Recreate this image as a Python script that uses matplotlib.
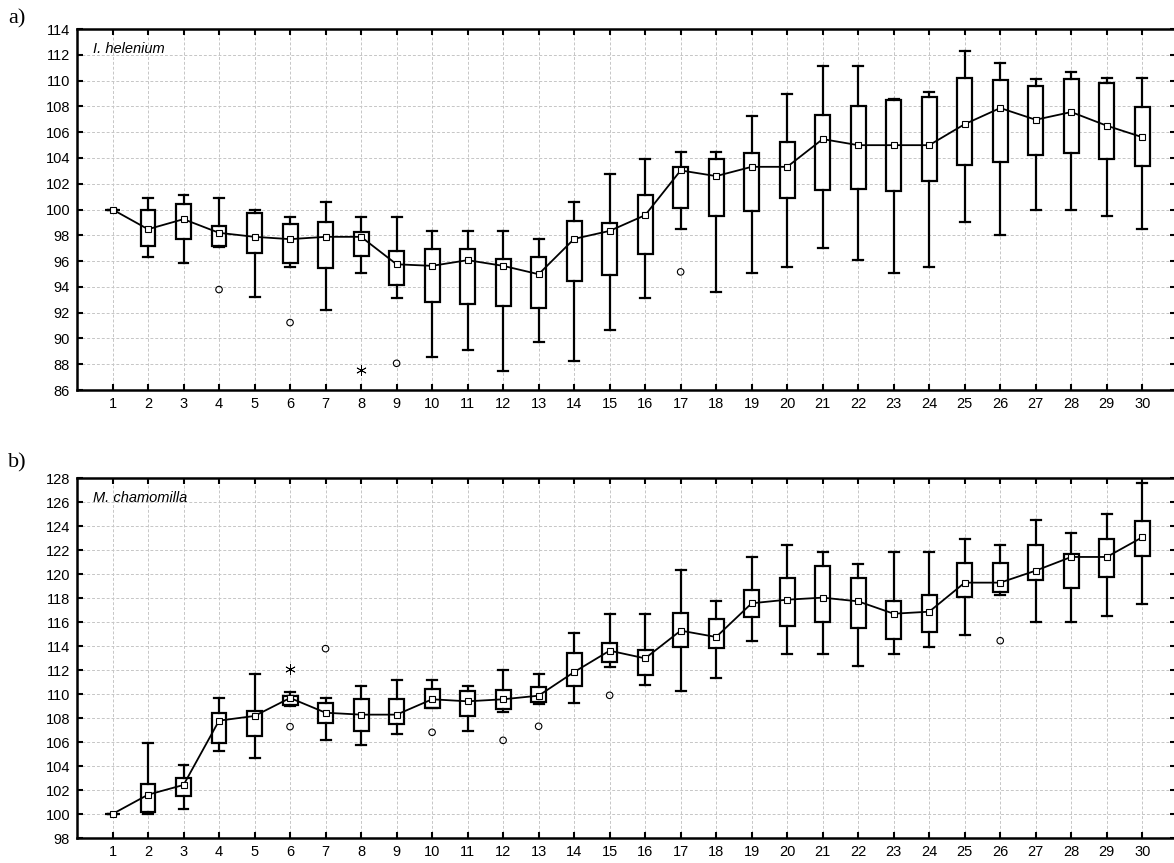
import numpy as np
import matplotlib
matplotlib.use("Agg")
from matplotlib import pyplot as plt

days = list(range(1, 31))

# a) I. helenium
mean_a = [100, 98.47, 99.25, 98.19, 97.88, 97.7, 97.88, 97.88, 95.75, 95.63,
          96.07, 95.63, 94.98, 97.72, 98.34, 99.56, 103.03, 102.59, 103.31, 103.31,
          105.46, 104.99, 104.99, 104.99, 106.62, 107.87, 106.96, 107.56, 106.5, 105.61]
q3_a = [100, 100.0, 100.46, 98.7, 99.71, 98.89, 99.04, 98.24, 96.79, 96.97,
        96.92, 96.17, 96.3, 99.14, 98.94, 101.14, 103.31, 103.93, 104.4, 105.23,
        107.35, 108.0, 108.49, 108.75, 110.2, 110.07, 109.55, 110.14, 109.78, 107.92]
q1_a = [100, 97.15, 97.75, 97.15, 96.66, 95.83, 95.44, 96.4, 94.15, 92.8,
        92.67, 92.52, 92.39, 94.49, 94.93, 96.58, 100.13, 99.46, 99.9, 100.93,
        101.55, 101.6, 101.42, 102.2, 103.49, 103.7, 104.19, 104.37, 103.88, 103.39]
hi_a = [100, 100.93, 101.09, 100.9, 100.0, 99.43, 100.57, 99.43, 99.45, 98.34,
        98.34, 98.34, 97.75, 100.57, 102.79, 103.88, 104.48, 104.48, 107.27, 108.93,
        111.15, 111.15, 108.56, 109.08, 112.27, 111.36, 110.1, 110.64, 110.22, 110.22]
lo_a = [100, 96.35, 95.83, 97.1, 93.24, 95.57, 92.18, 95.11, 93.17, 88.53,
        89.08, 87.5, 89.7, 88.25, 90.68, 93.14, 98.45, 93.63, 95.11, 95.57,
        97.05, 96.07, 95.11, 95.57, 99.04, 98.03, 100.0, 100.0, 99.51, 98.52]
out_x_a = [4, 6, 9, 17]
out_y_a = [93.79, 91.23, 88.07, 95.16]
ext_x_a = [8]
ext_y_a = [87.55]

# b) M. chamomilla
mean_b = [100, 101.61, 102.42, 107.78, 108.17, 109.67, 108.44, 108.28, 108.28, 109.56,
          109.39, 109.56, 109.86, 111.83, 113.61, 112.97, 115.28, 114.75, 117.56, 117.86,
          118.03, 117.72, 116.69, 116.86, 119.28, 119.28, 120.28, 121.42, 121.42, 123.06]
q3_b = [100, 102.53, 103.0, 108.42, 108.61, 109.86, 109.22, 109.61, 109.61, 110.42,
        110.25, 110.36, 110.56, 113.44, 114.28, 113.67, 116.75, 116.25, 118.69, 119.69,
        120.67, 119.67, 117.75, 118.28, 120.94, 120.94, 122.44, 121.64, 122.94, 124.42]
q1_b = [100, 100.19, 101.5, 105.89, 106.53, 109.06, 107.61, 106.94, 107.5, 108.86,
        108.14, 108.78, 109.33, 110.64, 112.64, 111.61, 113.89, 113.81, 116.39, 115.69,
        116.0, 115.47, 114.61, 115.14, 118.06, 118.5, 119.53, 118.81, 119.72, 121.53]
hi_b = [100, 105.89, 104.11, 109.67, 111.67, 110.14, 109.67, 110.67, 111.17, 111.17,
        110.67, 112.03, 111.64, 115.11, 116.67, 116.67, 120.31, 117.72, 121.39, 122.39,
        121.86, 120.81, 121.86, 121.86, 122.92, 122.39, 124.47, 123.42, 124.97, 127.61]
lo_b = [100, 100.0, 100.44, 105.22, 104.64, 109.0, 106.14, 105.72, 106.67, 108.8,
        106.89, 108.5, 109.14, 109.25, 112.28, 110.78, 110.28, 111.33, 114.42, 113.36,
        113.36, 112.33, 113.36, 113.89, 114.92, 118.28, 115.97, 115.97, 116.5, 117.53]
out_x_b = [6, 7, 10, 12, 13, 15, 26]
out_y_b = [107.28, 113.78, 106.81, 106.14, 107.31, 109.89, 114.44]
ext_x_b = [6]
ext_y_b = [112.08]


def plot_panel(ax, mean, q1, q3, lo, hi, out_x, out_y, ext_x, ext_y, ylim, name):
    stats = []
    for m, a, b, l, h in zip(mean, q1, q3, lo, hi):
        stats.append({'med': m, 'q1': a, 'q3': b, 'whislo': l, 'whishi': h, 'fliers': []})

    ax.bxp(stats, positions=days, widths=0.42, patch_artist=True, showfliers=False,
           boxprops=dict(facecolor='white', edgecolor='black', linewidth=1.6),
           whiskerprops=dict(color='black', linewidth=1.6),
           capprops=dict(color='black', linewidth=1.6),
           medianprops=dict(linewidth=0), capwidths=0.28, zorder=2)

    ax.plot(days, mean, color='black', linewidth=1.3, marker='s', markersize=5,
            markerfacecolor='white', markeredgecolor='black', markeredgewidth=0.8, zorder=4)
    ax.scatter(out_x, out_y, s=22, marker='o', facecolors='none', edgecolors='black',
               linewidths=0.8, zorder=4)
    ax.scatter(ext_x, ext_y, s=50, marker=(6, 2, 0), color='black', linewidths=0.6, zorder=4)

    ax.set_xlim(0, 30.95)
    ax.set_ylim(*ylim)
    ax.set_xticks(days)
    ax.set_xticklabels([str(d) for d in days])
    ax.set_yticks(np.arange(ylim[0], ylim[1] + 1, 2))
    ax.grid(True, color='#c6c6c6', linestyle=(0, (3, 2)), linewidth=0.7)
    ax.set_axisbelow(True)
    ax.tick_params(direction='in', length=4, width=1.5, top=True, right=True,
                   labelsize=10.5, pad=5, colors='black')
    for s in ax.spines.values():
        s.set_linewidth(1.8)
    ax.text(0.015, 0.945, name, transform=ax.transAxes, fontsize=10.5,
            style='italic', ha='left', va='center')


plt.rcParams['font.family'] = ['Liberation Sans', 'DejaVu Sans']
fig = plt.figure(figsize=(11.74, 8.63), dpi=100)
W, H = 1174, 863

ax_a = fig.add_axes([77 / W, 1 - 390 / H, 1099 / W, 361 / H])
ax_b = fig.add_axes([77 / W, 1 - 838 / H, 1099 / W, 360 / H])

plot_panel(ax_a, mean_a, q1_a, q3_a, lo_a, hi_a, out_x_a, out_y_a, ext_x_a, ext_y_a,
           (86, 114), 'I. helenium')
plot_panel(ax_b, mean_b, q1_b, q3_b, lo_b, hi_b, out_x_b, out_y_b, ext_x_b, ext_y_b,
           (98, 128), 'M. chamomilla')

fig.text(8 / W, 1 - 19 / H, 'a)', family='Liberation Serif', fontsize=16, va='center')
fig.text(8 / W, 1 - 463 / H, 'b)', family='Liberation Serif', fontsize=16, va='center')

fig.savefig('out.png', dpi=100)
